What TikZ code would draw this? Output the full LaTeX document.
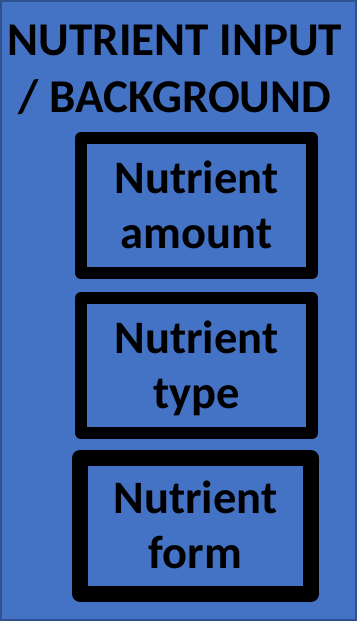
\documentclass[tikz,border=0pt]{standalone}
\usepackage{fontspec}
\setmainfont{Carlito}
\definecolor{panelblue}{HTML}{4472C4}
\definecolor{paneledge}{HTML}{2F528F}
\newcommand{\linestrut}{\rule[-10pt]{0pt}{50pt}}
\begin{document}
\begin{tikzpicture}[x=1pt,y=-1pt,
  itembox/.style={draw=black, line join=round, minimum width=231pt, minimum height=135pt,
    inner sep=0pt, align=center, font=\bfseries\fontsize{46.5}{55}\selectfont},
  titletext/.style={inner sep=0pt, align=center, font=\bfseries\fontsize{47}{57}\selectfont}]
\useasboundingbox (0,0) rectangle (359,622);
\node[draw=paneledge, fill=panelblue, line width=2pt, minimum width=355pt, minimum height=619pt, inner sep=0pt] (panel) at (178.5,310.5) {};
\node[titletext] (title) at (175,68.5) {\linestrut NUTRIENT INPUT\\\linestrut / BACKGROUND};
\node[itembox, line width=11.8pt] (amount) at (196.5,205.5) {\linestrut Nutrient\\\linestrut amount};
\node[itembox, line width=11.8pt] (type) at (196.5,365.5) {\linestrut Nutrient\\\linestrut type};
\node[itembox, line width=15.5pt, minimum height=136pt] (form) at (195.5,526) {\linestrut Nutrient\\\linestrut form};
\end{tikzpicture}
\end{document}
